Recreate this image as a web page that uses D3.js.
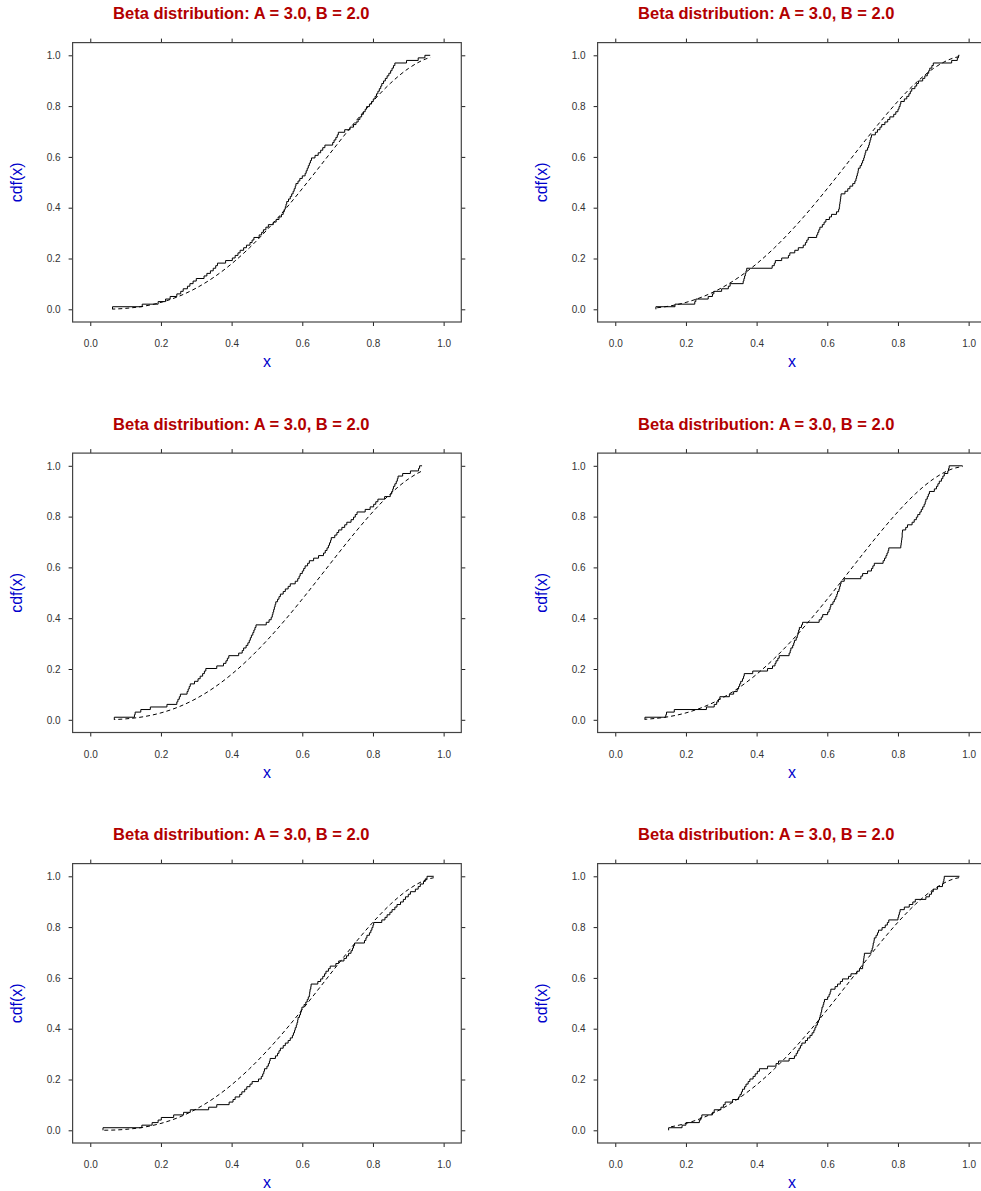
<!DOCTYPE html>
<html>
<head>
<meta charset="utf-8">
<script src="https://cdn.jsdelivr.net/npm/d3@7"></script>
<style>
  body { margin: 0; background: #fff; }
  text { font-family: "Liberation Sans", Arial, Helvetica, sans-serif; }
</style>
</head>
<body>
<svg id="chart" width="981" height="1191"></svg>
<script>
// ---- data -------------------------------------------------------------
const titleText = "Beta distribution: A = 3.0, B = 2.0";
const xLabel = "x";
const yLabel = "cdf(x)";
const xTickValues = [0.0, 0.2, 0.4, 0.6, 0.8, 1.0];
const yTickValues = [0.0, 0.2, 0.4, 0.6, 0.8, 1.0];

// Beta(3, 2) distribution function, tabulated
const betaGridX = [0.00, 0.05, 0.10, 0.15, 0.20, 0.25, 0.30, 0.35, 0.40, 0.45, 0.50,
                   0.55, 0.60, 0.65, 0.70, 0.75, 0.80, 0.85, 0.90, 0.95, 1.00];
const betaGridCdf = [0.00000, 0.00048, 0.00370, 0.01198, 0.02720, 0.05078, 0.08370,
                     0.12648, 0.17920, 0.24148, 0.31250, 0.39098, 0.47520, 0.56298,
                     0.65170, 0.73828, 0.81920, 0.89048, 0.94770, 0.98598, 1.00000];

// six sorted samples of size 100
const sample1 = [0.063,0.147,0.192,0.213,0.226,0.245,0.256,0.263,0.275,0.282,
  0.291,0.300,0.322,0.330,0.340,0.348,0.355,0.360,0.383,0.402,
  0.410,0.418,0.424,0.434,0.442,0.452,0.458,0.463,0.478,0.485,
  0.490,0.497,0.504,0.518,0.526,0.534,0.541,0.546,0.549,0.552,
  0.554,0.556,0.561,0.566,0.570,0.574,0.577,0.580,0.582,0.588,
  0.593,0.600,0.608,0.611,0.614,0.617,0.620,0.623,0.626,0.636,
  0.645,0.652,0.658,0.664,0.686,0.690,0.695,0.699,0.702,0.720,
  0.735,0.745,0.752,0.758,0.763,0.768,0.773,0.778,0.782,0.790,
  0.796,0.801,0.806,0.810,0.814,0.818,0.822,0.825,0.830,0.835,
  0.840,0.845,0.850,0.854,0.858,0.862,0.895,0.928,0.947,0.962];

const sample2 = [0.115,0.169,0.225,0.228,0.263,0.275,0.279,0.301,0.320,0.325,
  0.362,0.364,0.366,0.368,0.370,0.372,0.444,0.450,0.453,0.471,
  0.490,0.494,0.508,0.518,0.532,0.538,0.542,0.546,0.570,0.573,
  0.576,0.579,0.586,0.591,0.596,0.606,0.612,0.626,0.632,0.634,
  0.635,0.636,0.637,0.638,0.639,0.650,0.658,0.664,0.672,0.678,
  0.681,0.683,0.685,0.687,0.688,0.693,0.697,0.700,0.703,0.705,
  0.707,0.709,0.714,0.717,0.719,0.721,0.723,0.725,0.736,0.742,
  0.749,0.754,0.763,0.771,0.777,0.788,0.794,0.800,0.803,0.806,
  0.808,0.818,0.825,0.831,0.835,0.839,0.848,0.853,0.858,0.870,
  0.876,0.883,0.887,0.890,0.896,0.900,0.952,0.968,0.971,0.974];

const sample3 = [0.068,0.125,0.127,0.143,0.170,0.217,0.245,0.248,0.252,0.255,
  0.274,0.277,0.280,0.283,0.295,0.305,0.311,0.318,0.323,0.327,
  0.358,0.377,0.384,0.388,0.392,0.420,0.430,0.434,0.441,0.446,
  0.450,0.453,0.456,0.460,0.463,0.466,0.469,0.498,0.506,0.512,
  0.515,0.517,0.519,0.521,0.523,0.525,0.530,0.534,0.538,0.546,
  0.552,0.560,0.566,0.580,0.587,0.591,0.594,0.600,0.604,0.608,
  0.615,0.620,0.632,0.646,0.660,0.665,0.670,0.674,0.677,0.680,
  0.682,0.692,0.698,0.703,0.712,0.720,0.726,0.738,0.745,0.750,
  0.755,0.778,0.792,0.802,0.808,0.814,0.833,0.849,0.853,0.856,
  0.858,0.862,0.866,0.869,0.871,0.884,0.906,0.929,0.932,0.939];

const sample4 = [0.084,0.143,0.145,0.167,0.258,0.280,0.287,0.292,0.296,0.323,
  0.335,0.345,0.349,0.352,0.355,0.360,0.363,0.365,0.389,0.431,
  0.445,0.452,0.455,0.460,0.464,0.492,0.495,0.497,0.502,0.505,
  0.507,0.512,0.515,0.517,0.519,0.521,0.527,0.530,0.577,0.583,
  0.587,0.601,0.605,0.608,0.610,0.616,0.620,0.624,0.627,0.629,
  0.633,0.635,0.637,0.639,0.648,0.695,0.700,0.714,0.725,0.729,
  0.733,0.758,0.762,0.766,0.769,0.772,0.774,0.808,0.809,0.810,
  0.811,0.812,0.812,0.813,0.822,0.827,0.840,0.846,0.852,0.856,
  0.862,0.866,0.870,0.874,0.877,0.879,0.883,0.886,0.889,0.903,
  0.909,0.913,0.917,0.923,0.927,0.931,0.941,0.943,0.945,0.983];

const sample5 = [0.036,0.146,0.175,0.192,0.201,0.236,0.264,0.283,0.335,0.358,
  0.393,0.404,0.410,0.423,0.429,0.437,0.443,0.452,0.458,0.476,
  0.484,0.488,0.491,0.493,0.500,0.504,0.507,0.509,0.524,0.530,
  0.534,0.538,0.546,0.552,0.560,0.566,0.572,0.575,0.578,0.580,
  0.583,0.585,0.587,0.588,0.592,0.595,0.597,0.599,0.605,0.610,
  0.614,0.617,0.620,0.621,0.622,0.624,0.625,0.644,0.652,0.658,
  0.663,0.667,0.674,0.679,0.695,0.703,0.718,0.725,0.731,0.738,
  0.742,0.745,0.748,0.776,0.780,0.783,0.790,0.794,0.797,0.800,
  0.802,0.825,0.834,0.840,0.848,0.854,0.862,0.868,0.878,0.886,
  0.892,0.900,0.906,0.920,0.928,0.934,0.943,0.948,0.953,0.972];

const sample6 = [0.151,0.189,0.200,0.238,0.242,0.245,0.275,0.280,0.299,0.306,
  0.311,0.332,0.349,0.353,0.357,0.360,0.366,0.370,0.376,0.381,
  0.390,0.396,0.402,0.408,0.431,0.455,0.462,0.492,0.507,0.512,
  0.516,0.520,0.524,0.528,0.538,0.544,0.551,0.557,0.562,0.565,
  0.568,0.572,0.575,0.578,0.580,0.582,0.584,0.585,0.588,0.590,
  0.592,0.601,0.605,0.608,0.610,0.622,0.629,0.637,0.643,0.660,
  0.667,0.684,0.691,0.700,0.701,0.702,0.703,0.704,0.705,0.724,
  0.727,0.729,0.730,0.732,0.733,0.738,0.742,0.745,0.755,0.764,
  0.770,0.774,0.800,0.802,0.804,0.806,0.818,0.832,0.842,0.849,
  0.879,0.889,0.895,0.900,0.912,0.926,0.928,0.930,0.931,0.974];

const samples = [sample1, sample2, sample3, sample4, sample5, sample6];

// ---- layout -----------------------------------------------------------
const svg = d3.select("#chart");
const panelW = 388.7, panelH = 279.4;
const colLeft = [72.6, 597.6];
const rowTop = [42.6, 453.1, 863.6];
const domain = [-0.05, 1.05];

const titleColor = "#b20000";
const labelColor = "#0000cc";
const tickColor = "#333";

const betaTable = betaGridX.map((x, i) => ({ x: x, y: betaGridCdf[i] }));

samples.forEach((sample, k) => {
  const col = k % 2, row = Math.floor(k / 2);
  const left = colLeft[col], top = rowTop[row];
  const x = d3.scaleLinear().domain(domain).range([left, left + panelW]);
  const y = d3.scaleLinear().domain(domain).range([top + panelH, top]);
  const g = svg.append("g");

  // title
  g.append("text")
    .attr("x", left + 168.7)
    .attr("y", top - 23.6)
    .attr("text-anchor", "middle")
    .attr("font-size", "16.5px")
    .attr("font-weight", "bold")
    .attr("fill", titleColor)
    .text(titleText);

  // axes
  const styleAxis = sel => {
    sel.select(".domain").remove();
    sel.selectAll(".tick line").attr("stroke", "#222");
    sel.selectAll(".tick text").attr("fill", tickColor).attr("font-size", "10px")
      .attr("font-family", "'Liberation Sans', Arial, sans-serif");
  };
  g.append("g").attr("transform", `translate(0,${top + panelH})`)
    .call(d3.axisBottom(x).tickValues(xTickValues).tickFormat(d3.format(".1f"))
      .tickSize(4).tickPadding(14))
    .call(styleAxis);
  g.append("g").attr("transform", `translate(${left},0)`)
    .call(d3.axisLeft(y).tickValues(yTickValues).tickFormat(d3.format(".1f"))
      .tickSize(4).tickPadding(8))
    .call(styleAxis);
  g.append("g").attr("transform", `translate(0,${top})`)
    .call(d3.axisTop(x).tickValues(xTickValues).tickFormat("").tickSize(4))
    .call(styleAxis);
  g.append("g").attr("transform", `translate(${left + panelW},0)`)
    .call(d3.axisRight(y).tickValues(yTickValues).tickFormat("").tickSize(4))
    .call(styleAxis);

  // frame
  g.append("rect")
    .attr("x", left).attr("y", top)
    .attr("width", panelW).attr("height", panelH)
    .attr("fill", "none").attr("stroke", "#444").attr("stroke-width", 1.2);

  // axis labels
  g.append("text")
    .attr("x", left + panelW / 2)
    .attr("y", top + 324.7)
    .attr("text-anchor", "middle")
    .attr("font-size", "16px")
    .attr("fill", labelColor)
    .text(xLabel);
  g.append("text")
    .attr("transform", `translate(${left - 50.6},${top + panelH / 2}) rotate(-90)`)
    .attr("text-anchor", "middle")
    .attr("font-size", "16px")
    .attr("fill", labelColor)
    .text(yLabel);

  // theoretical curve over the sample range
  const lo = d3.min(sample), hi = d3.max(sample);
  const clipId = "clip" + k;
  svg.append("clipPath").attr("id", clipId)
    .append("rect")
    .attr("x", x(lo)).attr("y", top)
    .attr("width", x(hi) - x(lo)).attr("height", panelH);
  g.append("path")
    .datum(betaTable)
    .attr("clip-path", `url(#${clipId})`)
    .attr("fill", "none")
    .attr("stroke", "#000")
    .attr("stroke-width", 1)
    .attr("stroke-dasharray", "4,3")
    .attr("d", d3.line().x(d => x(d.x)).y(d => y(d.y)).curve(d3.curveMonotoneX));

  // empirical distribution function
  const n = sample.length;
  const steps = sample.map((v, i) => ({ x: v, y: i / (n - 1) }));
  g.append("path")
    .datum(steps)
    .attr("fill", "none")
    .attr("stroke", "#000")
    .attr("stroke-width", 1)
    .attr("d", d3.line().x(d => x(d.x)).y(d => y(d.y)).curve(d3.curveStepBefore));
});
</script>
</body>
</html>
